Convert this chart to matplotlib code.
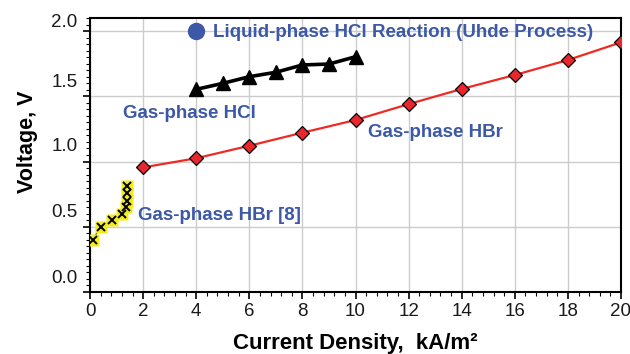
import matplotlib
matplotlib.use("Agg")
import matplotlib.pyplot as plt
from matplotlib.ticker import MultipleLocator
from matplotlib.transforms import ScaledTranslation

# Gas-phase HBr [8] (literature data)
hbr8_x = [0.10, 0.40, 0.82, 1.22, 1.34, 1.39, 1.40, 1.40]
hbr8_y = [0.40, 0.50, 0.55, 0.60, 0.65, 0.70, 0.76, 0.81]

# Gas-phase HBr
hbr_x = [2, 4, 6, 8, 10, 12, 14, 16, 18, 20]
hbr_y = [0.955, 1.025, 1.121, 1.221, 1.318, 1.44, 1.556, 1.663, 1.778, 1.913]

# Gas-phase HCl
hcl_x = [4, 5, 6, 7, 8, 9, 10]
hcl_y = [1.553, 1.599, 1.650, 1.684, 1.740, 1.747, 1.803]

# Liquid-phase HCl (Uhde)
uhde_x = [4]
uhde_y = [2.0]

blue = "#3c58a6"
plt.rcParams["font.family"] = ["Liberation Sans", "DejaVu Sans"]

fig = plt.figure(figsize=(6.3, 3.54), dpi=100)
ax = fig.add_axes([0.1429, 0.1751, 0.8428, 0.7741])

ax.plot(hbr8_x, hbr8_y, color="black", lw=0.8, ls=(0, (3, 2)), zorder=3)
ax.plot(hbr8_x, hbr8_y, ls="none", marker="s", ms=8, mfc="#f2ec1c",
        mec="none", zorder=4)
ax.plot(hbr8_x, hbr8_y, ls="none", marker="x", ms=5.5, mec="black",
        mew=1.4, zorder=5)

ax.plot(hbr_x, hbr_y, color="#ee2a24", lw=1.6, marker="D", ms=7,
        mfc="#e8262b", mec="black", mew=0.9, zorder=4)

ax.plot(hcl_x, hcl_y, color="black", lw=2.6, marker="^", ms=10,
        mfc="black", mec="black", zorder=4)

ax.plot(uhde_x, uhde_y, ls="none", marker="o", ms=11.5, mfc=blue,
        mec=blue, zorder=4, clip_on=False)

tkw = dict(color=blue, fontsize=13.5, fontweight="bold", va="center")
ax.text(4.63, 1.985, "Liquid-phase HCl Reaction (Uhde Process)", **tkw)
ax.text(1.24, 1.37, "Gas-phase HCl", **tkw)
ax.text(10.47, 1.225, "Gas-phase HBr", **tkw)
ax.text(1.81, 0.585, "Gas-phase HBr [8]", **tkw)

ax.set_xlim(0, 20)
ax.set_ylim(0, 2.1)
ax.xaxis.set_major_locator(MultipleLocator(2))
ax.xaxis.set_minor_locator(MultipleLocator(0.4))
ax.yaxis.set_minor_locator(MultipleLocator(0.05))
ax.set_yticks([0, 0.5, 1.0, 1.5, 2.0])
ax.set_yticklabels(["0.0", "0.5", "1.0", "1.5", "2.0"])

ax.grid(True, which="major", color="#cccccc", lw=1.0, zorder=0)
ax.set_axisbelow(True)
for s in ax.spines.values():
    s.set_linewidth(1.5)
ax.tick_params(which="major", direction="out", length=5, width=1.2,
               labelsize=13.5, colors="black", labelcolor="#1a1a1a")
ax.tick_params(which="minor", direction="out", length=3, width=0.8)
ax.tick_params(axis="x", pad=3)
ax.tick_params(axis="y", pad=4)

ax.set_xlabel("Current Density,  kA/m\u00b2", fontsize=16,
              fontweight="bold", labelpad=9)
ax.set_ylabel("Voltage, V", fontsize=15.5, fontweight="bold")
ax.yaxis.set_label_coords(-0.098, 0.55)

# tick labels in the source sit above their tick marks
offsets = [16, 16, 17, 16, 11]
for lab, off in zip(ax.get_yticklabels(), offsets):
    lab.set_transform(lab.get_transform() +
                      ScaledTranslation(0, off / 100, fig.dpi_scale_trans))

fig.savefig("out.png", dpi=100)
